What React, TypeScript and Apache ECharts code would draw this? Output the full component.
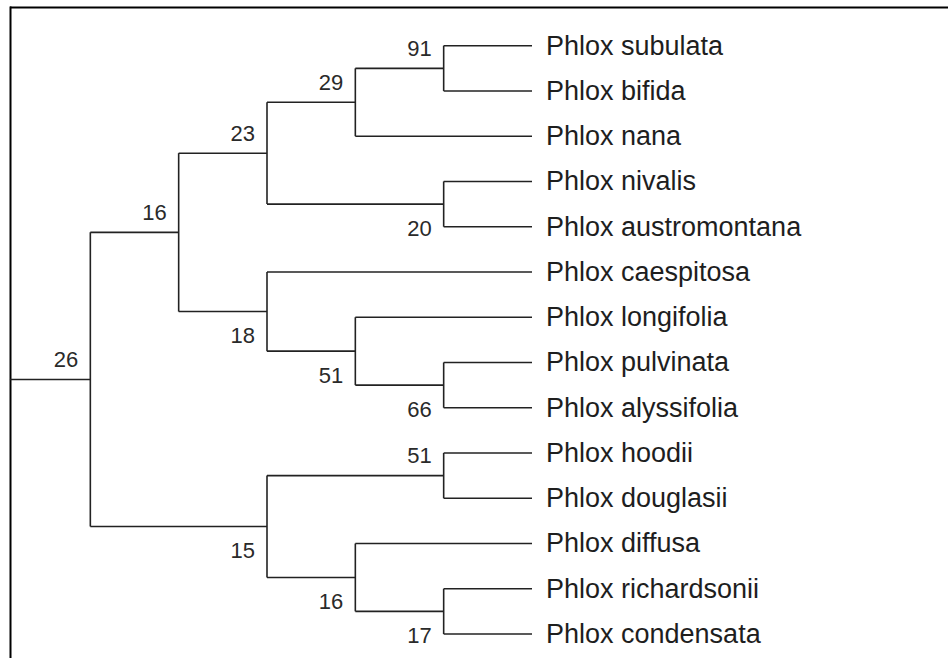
import React, { useEffect, useRef } from "react";
import * as echarts from "echarts";

// Leaves, top to bottom
const leafNames: string[] = [
  "Phlox subulata",
  "Phlox bifida",
  "Phlox nana",
  "Phlox nivalis",
  "Phlox austromontana",
  "Phlox caespitosa",
  "Phlox longifolia",
  "Phlox pulvinata",
  "Phlox alyssifolia",
  "Phlox hoodii",
  "Phlox douglasii",
  "Phlox diffusa",
  "Phlox richardsonii",
  "Phlox condensata",
];

// Clades: c0..c12, each with two children (leaf names or clade ids)
const cladeChildren: string[][] = [
  ["Phlox subulata", "Phlox bifida"], // c0
  ["c0", "Phlox nana"], // c1
  ["Phlox nivalis", "Phlox austromontana"], // c2
  ["c1", "c2"], // c3
  ["Phlox pulvinata", "Phlox alyssifolia"], // c4
  ["Phlox longifolia", "c4"], // c5
  ["Phlox caespitosa", "c5"], // c6
  ["c3", "c6"], // c7
  ["Phlox hoodii", "Phlox douglasii"], // c8
  ["Phlox richardsonii", "Phlox condensata"], // c9
  ["Phlox diffusa", "c9"], // c10
  ["c8", "c10"], // c11
  ["c7", "c11"], // c12 (root)
];

// Support values for the branch leading to each clade
const cladeSupport: number[] = [91, 29, 20, 23, 66, 51, 18, 16, 51, 17, 16, 15, 26];

const rootId = "c12";
const rootStubStart = 0.09;

type P = { x: number; y: number; h: number };

function buildLayout() {
  const pos: Record<string, P> = {};
  leafNames.forEach((n, i) => {
    pos[n] = { x: 0, y: i, h: 0 };
  });
  const get = (id: string): P => {
    if (pos[id]) return pos[id];
    const idx = parseInt(id.slice(1), 10);
    const [a, b] = cladeChildren[idx];
    const pa = get(a);
    const pb = get(b);
    pos[id] = { x: 0, y: (pa.y + pb.y) / 2, h: Math.max(pa.h, pb.h) + 1 };
    return pos[id];
  };
  const root = get(rootId);
  const leafDepth = root.h + 1;
  Object.keys(pos).forEach((k) => {
    pos[k].x = leafDepth - pos[k].h;
  });

  const segments: number[][] = [];
  const supportLabels: { x: number; y: number; text: string; above: boolean }[] = [];
  cladeChildren.forEach((ch, i) => {
    const id = "c" + i;
    const p = pos[id];
    const pa = pos[ch[0]];
    const pb = pos[ch[1]];
    segments.push([p.x, pa.y, p.x, pb.y]);
    segments.push([p.x, pa.y, pa.x, pa.y]);
    segments.push([p.x, pb.y, pb.x, pb.y]);
  });
  const pr = pos[rootId];
  segments.push([rootStubStart, pr.y, pr.x, pr.y]);

  // support label side: first child above, second child below, root above
  const side: Record<string, boolean> = { [rootId]: true };
  cladeChildren.forEach((ch) => {
    side[ch[0]] = true;
    side[ch[1]] = false;
  });
  cladeChildren.forEach((_, i) => {
    const id = "c" + i;
    supportLabels.push({
      x: pos[id].x,
      y: pos[id].y,
      text: String(cladeSupport[i]),
      above: side[id],
    });
  });
  const leafLabels = leafNames.map((n) => ({ x: pos[n].x, y: pos[n].y, text: n }));
  return { segments, supportLabels, leafLabels, leafDepth };
}

export default function App() {
  const ref = useRef<HTMLDivElement>(null);
  useEffect(() => {
    if (!ref.current) return;
    const chart = echarts.init(ref.current, undefined, { renderer: "svg" });
    const { segments, supportLabels, leafLabels, leafDepth } = buildLayout();
    const font = "'Liberation Sans', Arial, sans-serif";
    chart.setOption({
      animation: false,
      backgroundColor: "#ffffff",
      grid: { left: 2, right: 416, top: 45.7, bottom: 24 },
      xAxis: { type: "value", min: 0, max: leafDepth, show: false },
      yAxis: { type: "value", min: 0, max: leafNames.length - 1, inverse: true, show: false },
      graphic: [
        { type: "line", shape: { x1: 10, y1: 7.5, x2: 948, y2: 7.5 }, style: { stroke: "#000", lineWidth: 2 } },
        { type: "line", shape: { x1: 10.5, y1: 6.5, x2: 10.5, y2: 658 }, style: { stroke: "#000", lineWidth: 2 } },
      ],
      series: [
        {
          type: "custom",
          coordinateSystem: "cartesian2d",
          silent: true,
          data: segments,
          renderItem: (params: any, api: any) => {
            const s = segments[params.dataIndex];
            const p1 = api.coord([s[0], s[1]]);
            const p2 = api.coord([s[2], s[3]]);
            return {
              type: "line",
              shape: { x1: p1[0], y1: p1[1], x2: p2[0], y2: p2[1] },
              style: { stroke: "#222", lineWidth: 1.6 },
            };
          },
        },
        {
          type: "custom",
          coordinateSystem: "cartesian2d",
          silent: true,
          data: leafLabels.map((l) => [l.x, l.y]),
          renderItem: (params: any, api: any) => {
            const l = leafLabels[params.dataIndex];
            const p = api.coord([l.x, l.y]);
            return {
              type: "text",
              x: p[0] + 14,
              y: p[1],
              style: {
                text: l.text,
                fontSize: 27,
                fontFamily: font,
                fill: "#1e1e1e",
                align: "left",
                verticalAlign: "middle",
              },
            };
          },
        },
        {
          type: "custom",
          coordinateSystem: "cartesian2d",
          silent: true,
          data: supportLabels.map((l) => [l.x, l.y]),
          renderItem: (params: any, api: any) => {
            const l = supportLabels[params.dataIndex];
            const p = api.coord([l.x, l.y]);
            return {
              type: "text",
              x: p[0] - 12,
              y: p[1] + (l.above ? -20 : 24),
              style: {
                text: l.text,
                fontSize: 22,
                fontFamily: font,
                fill: "#2a2a2a",
                align: "right",
                verticalAlign: "middle",
              },
            };
          },
        },
      ],
    });
    return () => chart.dispose();
  }, []);
  return (
    <div
      ref={ref}
      style={{ position: "fixed", left: 0, top: 0, width: 948, height: 658, background: "#fff" }}
    />
  );
}
